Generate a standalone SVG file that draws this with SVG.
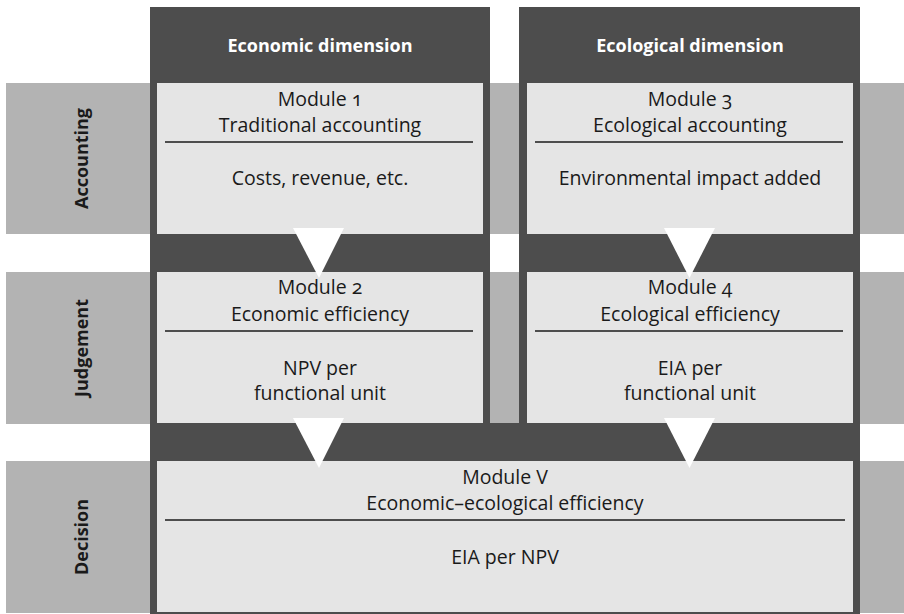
<svg xmlns="http://www.w3.org/2000/svg" width="904" height="614" viewBox="0 0 904 614">
<style>
.band{fill:#b3b3b3}
.dark{fill:#4d4d4d}
.box{fill:#e5e5e5}
.sep{stroke:#1a1a1a;stroke-width:1.3}
.t{font-family:"Open Sans","Noto Sans","DejaVu Sans",sans-serif;font-size:19.5px;fill:#1a1a1a;text-anchor:middle;font-variant-numeric:oldstyle-nums}
.hd{font-family:"Open Sans","Noto Sans","DejaVu Sans",sans-serif;font-size:18px;font-weight:700;fill:#ffffff;text-anchor:middle}
.rl{font-family:"Open Sans","Noto Sans","DejaVu Sans",sans-serif;font-size:18px;font-weight:700;fill:#1a1a1a;text-anchor:middle}
.arr{fill:#ffffff}
</style>
<rect width="904" height="614" fill="#ffffff"/>
<g id="bands">
<rect class="band" x="6" y="83" width="898" height="151"/>
<rect class="band" x="6" y="272" width="898" height="152"/>
<rect class="band" x="6" y="461" width="898" height="152"/>
</g>
<g id="col-economic">
<rect class="dark" x="150" y="7" width="340" height="607"/>
<text class="hd" x="320" y="52">Economic dimension</text>
</g>
<g id="col-ecological">
<rect class="dark" x="519" y="7" width="341" height="607"/>
<text class="hd" x="690" y="52">Ecological dimension</text>
</g>
<g id="bar-decision">
<rect class="dark" x="150" y="423" width="710" height="191"/>
</g>
<g id="row-accounting"><text class="rl" transform="translate(88,158.5) rotate(-90)">Accounting</text></g>
<g id="row-judgement"><text class="rl" transform="translate(88,348) rotate(-90)">Judgement</text></g>
<g id="row-decision"><text class="rl" transform="translate(88,537) rotate(-90)">Decision</text></g>
<g id="module1">
<rect class="box" x="157" y="83" width="326" height="151"/>
<text class="t" x="320" y="106">Module 1</text>
<text class="t" x="320" y="132">Traditional accounting</text>
<line class="sep" x1="165" y1="142" x2="473" y2="142"/>
<text class="t" x="320" y="185">Costs, revenue, etc.</text>
</g>
<g id="module3">
<rect class="box" x="527" y="83" width="326" height="151"/>
<text class="t" x="690" y="106">Module 3</text>
<text class="t" x="690" y="132">Ecological accounting</text>
<line class="sep" x1="535" y1="142" x2="843" y2="142"/>
<text class="t" x="690" y="185">Environmental impact added</text>
</g>
<g id="module2">
<rect class="box" x="157" y="272" width="326" height="151"/>
<text class="t" x="320" y="294">Module 2</text>
<text class="t" x="320" y="321">Economic efficiency</text>
<line class="sep" x1="165" y1="331" x2="473" y2="331"/>
<text class="t" x="320" y="375">NPV per</text>
<text class="t" x="320" y="400">functional unit</text>
</g>
<g id="module4">
<rect class="box" x="527" y="272" width="326" height="151"/>
<text class="t" x="690" y="294">Module 4</text>
<text class="t" x="690" y="321">Ecological efficiency</text>
<line class="sep" x1="535" y1="331" x2="843" y2="331"/>
<text class="t" x="690" y="375">EIA per</text>
<text class="t" x="690" y="400">functional unit</text>
</g>
<g id="moduleV">
<rect class="box" x="157" y="461" width="696" height="151"/>
<text class="t" x="505" y="484">Module V</text>
<text class="t" x="505" y="510">Economic–ecological efficiency</text>
<line class="sep" x1="165" y1="520" x2="845" y2="520"/>
<text class="t" x="505" y="564">EIA per NPV</text>
</g>
<g id="connectors">
<polygon class="arr" points="293,228 344,228 319,278"/>
<polygon class="arr" points="664,228 715,228 689.5,278"/>
<polygon class="arr" points="293,418 344,418 319,468"/>
<polygon class="arr" points="664,418 715,418 689.5,468"/>
</g>
</svg>
